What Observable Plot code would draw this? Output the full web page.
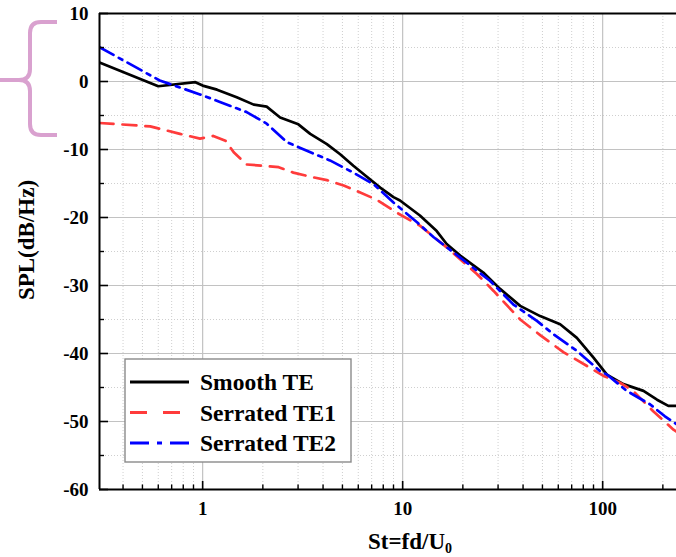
<!DOCTYPE html>
<html>
<head>
<meta charset="utf-8">
<script src="https://cdn.jsdelivr.net/npm/d3@7"></script>
<script src="https://cdn.jsdelivr.net/npm/@observablehq/plot@0.6"></script>
<style>
  body { margin: 0; background: #fff; }
  #wrap { position: relative; width: 676px; height: 557px; overflow: hidden; background: #fff; }
  #wrap svg { display: block; }
</style>
</head>
<body>
<div id="wrap"></div>
<script>
// ---- data ----
const seriesNames = ["Smooth TE", "Serrated TE1", "Serrated TE2"];
const seriesColors = ["#000000", "#ff3b3b", "#0000ff"];
const seriesDash = [null, "14,9", "16,6,4,6"];

const smoothSt  = [0.305, 0.60, 0.92, 1.0, 1.18, 1.48, 1.80, 2.09, 2.44, 3.01, 3.45, 4.18, 4.87, 5.67, 6.37, 7.72, 9.0, 9.7, 12.2, 14.8, 16.6, 19.4, 25.3, 30.7, 38.7, 48.7, 61.3, 74.3, 90, 105, 127, 160, 187, 213, 234];
const smoothSPL = [2.8, -0.7, -0.1, -0.6, -1.2, -2.3, -3.4, -3.7, -5.3, -6.3, -7.7, -9.2, -10.7, -12.4, -13.6, -15.6, -17.0, -17.5, -19.7, -22.0, -23.9, -25.6, -28.1, -30.5, -33.0, -34.5, -35.7, -37.7, -40.6, -43.1, -44.5, -45.5, -46.8, -47.7, -47.7];

const serr1St  = [0.305, 0.547, 0.77, 0.97, 1.13, 1.30, 1.43, 1.66, 2.01, 2.4, 2.84, 3.58, 4.18, 5.07, 5.90, 7.43, 9.35, 12.2, 16.6, 23.5, 28.5, 38.7, 48.7, 63.6, 86.5, 101, 122, 142, 179, 226, 234];
const serr1SPL = [-6.1, -6.6, -7.7, -8.4, -8.0, -8.7, -10.4, -12.2, -12.4, -12.6, -13.4, -14.1, -14.5, -15.3, -16.1, -17.4, -19.3, -21.2, -24.4, -28.3, -30.8, -35.0, -37.3, -39.8, -42.1, -43.3, -44.3, -45.5, -48.5, -51.2, -51.5];

const serr2St  = [0.305, 0.61, 0.97, 1.22, 1.66, 2.09, 2.63, 3.32, 4.33, 5.67, 7.15, 9.0, 11.8, 14.3, 19.4, 27.3, 35.8, 46.9, 57, 74.3, 97.2, 105, 132, 173, 204, 234];
const serr2SPL = [5.05, 0.15, -1.9, -3.0, -4.5, -6.2, -8.9, -10.2, -11.6, -13.4, -15.1, -17.8, -20.7, -22.9, -25.9, -29.3, -32.8, -35.2, -37.2, -39.6, -42.6, -43.1, -45.5, -47.5, -49.2, -50.4];

const xDomain = [0.305, 234];
const yDomain = [-60, 10];
const xMajor = [1, 10, 100];
const xMinor = [0.4, 0.5, 0.6, 0.7, 0.8, 0.9, 2, 3, 4, 5, 6, 7, 8, 9, 20, 30, 40, 50, 60, 70, 80, 90, 200];
const yMajor = [-60, -50, -40, -30, -20, -10, 0, 10];
const yMinor = [-55, -45, -35, -25, -15, -5, 5];
const yLabel = "SPL(dB/Hz)";
const xLabelMain = "St=fd/U";
const xLabelSub = "0";

// ---- build tables ----
const toRows = (st, spl, name) => st.map((s, i) => ({st: s, spl: spl[i], series: name}));
const tables = [
  toRows(smoothSt, smoothSPL, seriesNames[0]),
  toRows(serr1St, serr1SPL, seriesNames[1]),
  toRows(serr2St, serr2SPL, seriesNames[2])
];

const FONT = "'Liberation Serif', 'Times New Roman', serif";

const chart = Plot.plot({
  width: 676,
  height: 557,
  marginTop: 13,
  marginLeft: 99,
  marginRight: 0,
  marginBottom: 68,
  style: {fontFamily: FONT, fontWeight: "bold", background: "#fff", color: "#000"},
  x: {type: "log", domain: xDomain, label: null},
  y: {domain: yDomain, label: null},
  marks: [
    Plot.gridX(xMinor, {stroke: "#cfcfcf", strokeOpacity: 1, strokeDasharray: "1,2"}),
    Plot.gridY(yMinor, {stroke: "#cfcfcf", strokeOpacity: 1, strokeDasharray: "1,2"}),
    Plot.gridX(xMajor, {stroke: "#c2c2c2", strokeOpacity: 1, strokeWidth: 1.2}),
    Plot.gridY(yMajor, {stroke: "#c2c2c2", strokeOpacity: 1, strokeWidth: 1.2}),
    ...tables.map((t, i) => Plot.line(t, {
      x: "st", y: "spl",
      stroke: seriesColors[i],
      strokeWidth: 2.7,
      strokeDasharray: seriesDash[i],
      curve: "linear",
      clip: true
    })),
    Plot.ruleY([yDomain[1]], {stroke: "#000", strokeWidth: 2.2}),
    Plot.ruleY([yDomain[0]], {stroke: "#000", strokeWidth: 2}),
    Plot.ruleX([xDomain[0]], {stroke: "#000", strokeWidth: 2}),
    Plot.axisX(xMajor, {tickSize: 0, tickPadding: 12, fontSize: 19, tickFormat: d => String(d), label: null}),
    Plot.axisX(xMajor, {tickSize: -8, strokeWidth: 1.6, tickFormat: () => "", label: null}),
    Plot.axisX(xMinor, {tickSize: -4.5, strokeWidth: 1.4, tickFormat: () => "", label: null}),
    Plot.axisY(yMajor, {tickSize: 0, tickPadding: 11, fontSize: 19, tickFormat: d => String(d), label: null}),
    Plot.axisY(yMajor, {tickSize: -9, strokeWidth: 1.6, tickFormat: () => "", label: null}),
    Plot.axisY(yMinor, {tickSize: -5, strokeWidth: 1.4, tickFormat: () => "", label: null})
  ]
});

const svg = d3.select(chart);

// axis titles
svg.append("text")
  .attr("transform", "translate(34,240) rotate(-90)")
  .attr("text-anchor", "middle")
  .attr("font-family", FONT).attr("font-weight", "bold").attr("font-size", 23)
  .attr("fill", "#000")
  .text(yLabel);

const xt = svg.append("text")
  .attr("x", 410).attr("y", 549)
  .attr("text-anchor", "middle")
  .attr("font-family", FONT).attr("font-weight", "bold").attr("font-size", 23)
  .attr("fill", "#000");
xt.append("tspan").text(xLabelMain);
xt.append("tspan").attr("font-size", 14).attr("dy", 4).text(xLabelSub);

// legend
const lg = svg.append("g").attr("transform", "translate(125,359)");
lg.append("rect").attr("width", 226).attr("height", 103)
  .attr("fill", "#fff").attr("stroke", "#8a8a8a").attr("stroke-width", 1.4);
seriesNames.forEach((name, i) => {
  const yy = 23 + i * 30.5;
  lg.append("line").attr("x1", 5).attr("x2", 64).attr("y1", yy).attr("y2", yy)
    .attr("stroke", seriesColors[i]).attr("stroke-width", 3)
    .attr("stroke-dasharray", i === 1 ? "17,16" : i === 2 ? "19,8,5,8" : null);
  lg.append("text").attr("x", 75).attr("y", yy).attr("dy", "0.35em")
    .attr("text-anchor", "start")
    .attr("font-family", FONT).attr("font-weight", "bold").attr("font-size", 23.5)
    .attr("fill", "#000").text(name);
});

document.getElementById("wrap").appendChild(chart);

// pink brace annotation on the left
const ns = "http://www.w3.org/2000/svg";
const brace = document.createElementNS(ns, "svg");
brace.setAttribute("width", 70);
brace.setAttribute("height", 150);
brace.style.position = "absolute";
brace.style.left = "0px";
brace.style.top = "0px";
const p = document.createElementNS(ns, "path");
p.setAttribute("d", "M57,22 H41 Q30,22 30,33 V69 Q30,80 19,80 H0 M19,80 Q30,80 30,91 V124 Q30,135 41,135 H57");
p.setAttribute("fill", "none");
p.setAttribute("stroke", "#d9a1cf");
p.setAttribute("stroke-width", 4);
brace.appendChild(p);
document.getElementById("wrap").appendChild(brace);
</script>
</body>
</html>
